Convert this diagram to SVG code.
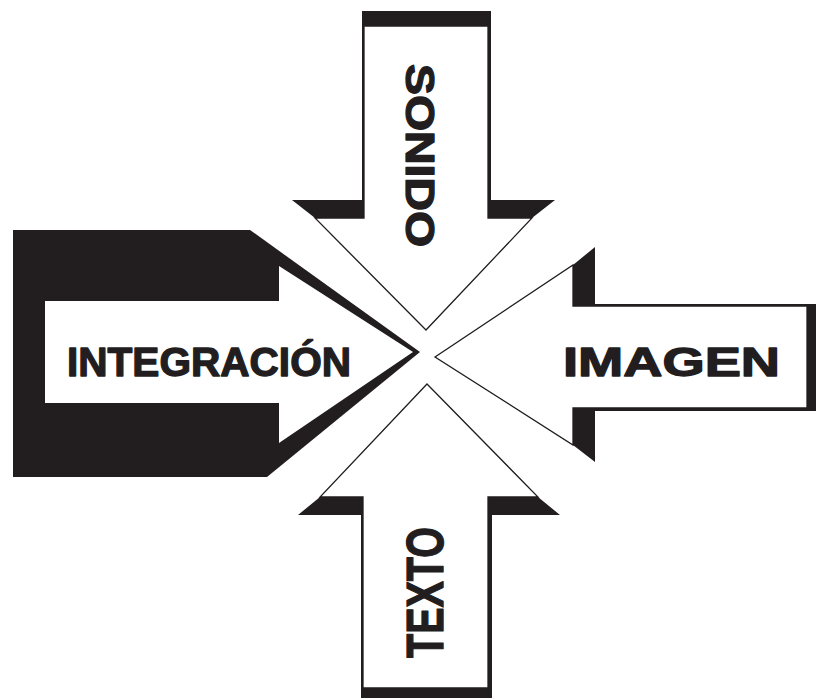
<svg xmlns="http://www.w3.org/2000/svg" width="816" height="699" viewBox="0 0 816 699">
<style>
.shadow{fill:#221e1f;stroke:none}
.body{fill:#ffffff;stroke:#221e1f;stroke-width:1.3;stroke-linejoin:miter}
.lbl{font-family:"Liberation Sans",Arial,sans-serif;font-weight:bold;fill:#221e1f;stroke:#221e1f;stroke-width:1.3;stroke-linejoin:round}
</style>
<rect x="0" y="0" width="816" height="699" fill="#ffffff"/>
<g id="integracion">
<polygon class="shadow" points="13,230 250,230 420,352 267,477 13,477"/>
<polygon class="body" style="stroke:none" points="45,301 279,301 279,266 413,352 279,443 279,403 45,403"/>
<text class="lbl" x="67" y="376" font-size="40" textLength="284" lengthAdjust="spacingAndGlyphs">INTEGRACIÓN</text>
</g>
<g id="sonido">
<polygon class="shadow" points="362,11 491,11 491,200 555,200 532,218 426,330 315,218 292,200 362,200"/>
<polygon class="body" points="364,26 488,26 488,218 532,218 426,330 315,218 364,218"/>
<text class="lbl" transform="translate(406,64) rotate(90)" font-size="40" textLength="183" lengthAdjust="spacingAndGlyphs">SONIDO</text>
</g>
<g id="imagen">
<polygon class="shadow" points="573,265 595,247 595,304 816,304 816,411 595,411 595,462 573,445 435,357"/>
<polygon class="body" points="435,357 573,265 573,306 807,306 807,408 573,408 573,445"/>
<text class="lbl" x="563" y="376" font-size="41" textLength="217" lengthAdjust="spacingAndGlyphs">IMAGEN</text>
</g>
<g id="texto">
<polygon class="shadow" points="427,384 538,497 560,515 492,515 492,698 361,698 361,515 298,515 320,497"/>
<polygon class="body" points="427,384 538,497 488,497 488,688 363,688 363,497 320,497"/>
<text class="lbl" transform="translate(443,658) rotate(-90)" font-size="51" textLength="131" lengthAdjust="spacingAndGlyphs">TEXTO</text>
</g>
<g id="connectors"/>
</svg>
